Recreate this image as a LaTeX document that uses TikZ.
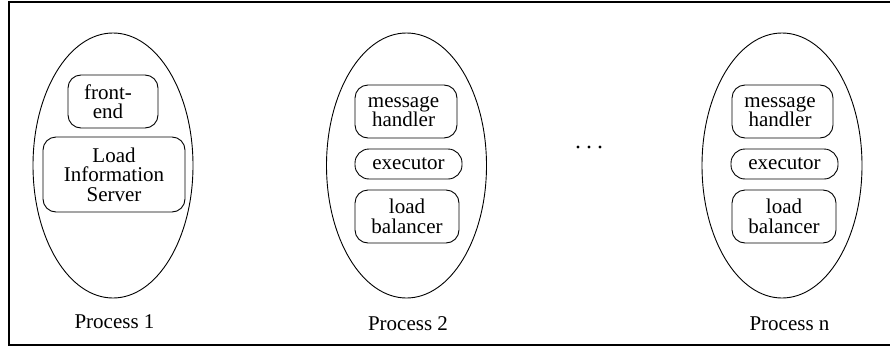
\documentclass[tikz,border=0pt]{standalone}
\usepackage{fontspec}
\setmainfont{Liberation Serif}
\usetikzlibrary{shapes.geometric}
\begin{document}
\begin{tikzpicture}[x=1pt,y=-1pt,
  every node/.style={font=\fontsize{21}{19.5}\selectfont},
  proc/.style={draw,ellipse,line width=0.9pt,minimum width=160pt,minimum height=265pt,inner sep=0pt},
  comp/.style={draw,rounded corners=13pt,line width=0.9pt,inner sep=0pt,align=center},
  exec/.style={draw,rounded corners=14pt,line width=0.9pt,inner sep=0pt,minimum width=107pt,minimum height=30pt},
  plabel/.style={anchor=base},
  dot/.style={circle,fill,inner sep=0pt,minimum size=3.4pt}]
\useasboundingbox (0,0) rectangle (890,348);
% frame (right side runs off the page)
\draw[line width=2.4pt] (895,2) -- (9,2) -- (9,345) -- (895,345);

% Process 1
\node[proc] (p1) at (113,165.5) {};
\node[comp,minimum width=90pt,minimum height=53pt] (fe) at (113,101.5) {front-\hspace*{10pt}\\end\hspace*{10pt}};
\node[comp,minimum width=142pt,minimum height=75pt] (lis) at (114,174.5) {Load\\Information\\Server};
\node[plabel] (l1) at (114.5,328) {Process 1};

% Process 2
\node[proc] (p2) at (406.5,165.5) {};
\node[comp,minimum width=102pt,minimum height=53pt] (mh2) at (406,111.5) {message\hspace*{5pt}\\handler\hspace*{5pt}};
\node[exec] (ex2) at (408.5,164) {executor};
\node[comp,minimum width=104pt,minimum height=53pt] (lb2) at (407,216.5) {load\\balancer};
\node[plabel] (l2) at (408,330) {Process 2};

% ellipsis between the processes
\node[dot] (d1) at (578,147) {};
\node[dot] (d2) at (589,147) {};
\node[dot] (d3) at (600,147) {};

% Process n
\node[proc] (pn) at (782,165.5) {};
\node[comp,minimum width=101pt,minimum height=53pt] (mhn) at (782.5,111.5) {message\hspace*{5pt}\\handler\hspace*{5pt}};
\node[exec] (exn) at (784.5,164) {executor};
\node[comp,minimum width=104pt,minimum height=53pt] (lbn) at (784,216.5) {load\\balancer};
\node[plabel] (ln) at (789.5,330) {Process n};
\end{tikzpicture}
\end{document}
